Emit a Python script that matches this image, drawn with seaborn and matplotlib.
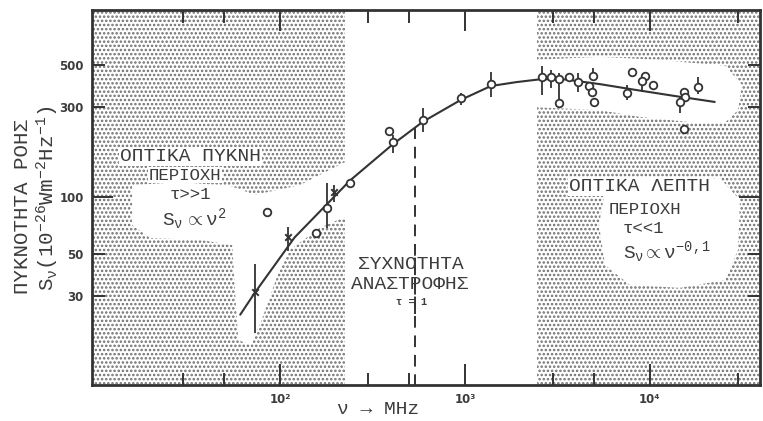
import numpy as np
import pandas as pd
import matplotlib
matplotlib.use("Agg")
import matplotlib.pyplot as plt
from matplotlib.patches import Polygon
from matplotlib.ticker import FixedLocator, FixedFormatter, NullFormatter
import seaborn as sns

# ---------------- data ----------------
curve_freq = [61, 73, 120, 239, 408, 593, 950, 1380, 1900, 2600, 3500, 5370, 8400, 13600, 22400]
curve_flux = [23.8, 31, 61, 122, 190, 250, 326, 386, 405, 420, 418, 395, 368, 342, 318]

circ_freq = [85, 157, 180, 239, 388, 408, 593, 950, 1380, 2600, 2920, 3220, 3220, 3650,
             4080, 4920, 4680, 4850, 5010, 7510, 8000, 9400, 9050, 10400, 15300, 15500,
             14500, 15300, 18200]
circ_flux = [83, 64.5, 87, 119, 223, 195, 255, 334, 396, 431, 431, 421, 314, 431,
             405, 436, 386, 360, 318, 355, 458, 436, 411, 392, 360, 338,
             318, 229, 382]

cross_freq = [73, 110, 196]
cross_flux = [31.4, 61, 106]

err_freq = [73, 110, 196, 180, 408, 593, 950, 1380, 2600, 2920, 3220, 4080, 4920,
            7510, 9050, 10400, 14500, 18200]
err_lo = [19, 52, 94, 68.5, 171, 221, 307, 338, 347, 378, 320, 360, 420,
          326, 360, 372, 278, 350]
err_hi = [44, 69, 116, 119, 213, 295, 355, 458, 490, 470, 453, 453, 480,
          392, 411, 400, 340, 430]

turnover_freq = 540
turnover_lo = [10, 24]
turnover_hi = [56, 240]

thick_band = [9.0, 224]      # optically thick (shaded) region, MHz
thin_band = [2450, 45000]    # optically thin (shaded) region, MHz

x_major = [100, 1000, 10000]
x_major_labels = ["10²", "10³", "10⁴"]
x_minor = [30, 50, 300, 500, 3000, 5000, 30000]
y_major = [100]
y_minor = [30, 50, 300, 500]

# ---------------- style ----------------
sns.set_style("ticks")
plt.rcParams["font.family"] = ["Liberation Mono", "DejaVu Sans"]
plt.rcParams["mathtext.fontset"] = "custom"
plt.rcParams["mathtext.rm"] = "Liberation Mono"
plt.rcParams["mathtext.it"] = "Liberation Mono"
plt.rcParams["mathtext.bf"] = "Liberation Mono:bold"
plt.rcParams["hatch.linewidth"] = 1.2
INK = "#333333"
TXT = "#3c3c3c"

fig = plt.figure(figsize=(7.63, 4.21), dpi=100)
ax = fig.add_axes([92 / 763, 36 / 421, 668 / 763, 375 / 421])
ax.set_xscale("log")
ax.set_yscale("log")
ax.set_xlim(9.64, 39350)
ax.set_ylim(10.1, 975)

# stippled regions
for lo, hi in (thick_band, thin_band):
    ax.axvspan(lo, hi, facecolor="white", edgecolor="#6e6e6e", hatch="....",
               linewidth=0, zorder=0.5)

# white clearings in the stipple (axes fraction)
holes = [
    [(0.060, 0.533), (0.132, 0.541), (0.207, 0.531), (0.244, 0.507), (0.311, 0.533),
     (0.385, 0.600), (0.385, 0.453), (0.341, 0.419), (0.296, 0.360), (0.278, 0.293),
     (0.254, 0.173), (0.237, 0.107), (0.219, 0.120), (0.214, 0.253), (0.210, 0.373),
     (0.162, 0.387), (0.087, 0.392), (0.060, 0.427)],
    [(0.660, 0.867), (0.760, 0.875), (0.850, 0.867), (0.948, 0.851), (0.973, 0.800),
     (0.967, 0.733), (0.948, 0.700), (0.900, 0.700), (0.820, 0.715),
     (0.760, 0.733), (0.660, 0.741)],
    [(0.768, 0.520), (0.850, 0.547), (0.940, 0.552), (0.970, 0.493), (0.967, 0.360),
     (0.948, 0.280), (0.880, 0.259), (0.805, 0.267), (0.768, 0.320), (0.759, 0.427)],
]
for h in holes:
    ax.add_patch(Polygon(h, closed=True, transform=ax.transAxes, facecolor="white",
                         edgecolor="none", zorder=0.6))

# turnover frequency dashed line
ax.vlines([turnover_freq] * 2, turnover_lo, turnover_hi, colors=INK,
          linestyles=(0, (6, 4)), linewidth=1.4, zorder=1)

# spectrum curve
curve = pd.DataFrame({"freq": curve_freq, "flux": curve_flux})
sns.lineplot(data=curve, x="freq", y="flux", ax=ax, color=INK, linewidth=1.5,
             sort=False, zorder=2)

# error bars
ax.vlines(err_freq, err_lo, err_hi, colors=INK, linewidth=1.3, zorder=2.5)

# points
circ = pd.DataFrame({"freq": circ_freq, "flux": circ_flux})
sns.scatterplot(data=circ, x="freq", y="flux", ax=ax, marker="o", s=30,
                facecolor="white", edgecolor=INK, linewidth=1.3, zorder=3)
cross = pd.DataFrame({"freq": cross_freq, "flux": cross_flux})
sns.scatterplot(data=cross, x="freq", y="flux", ax=ax, marker="x", s=22,
                color=INK, linewidth=1.4, zorder=3)

# axes cosmetics
for sp in ax.spines.values():
    sp.set_linewidth(2.0)
    sp.set_color(INK)
    sp.set_visible(True)
ax.xaxis.set_major_locator(FixedLocator(x_major))
ax.xaxis.set_major_formatter(FixedFormatter(x_major_labels))
ax.xaxis.set_minor_locator(FixedLocator(x_minor))
ax.xaxis.set_minor_formatter(NullFormatter())
ax.yaxis.set_major_locator(FixedLocator(y_major))
ax.yaxis.set_major_formatter(FixedFormatter([str(v) for v in y_major]))
ax.yaxis.set_minor_locator(FixedLocator(y_minor))
ax.yaxis.set_minor_formatter(FixedFormatter([str(v) for v in y_minor]))
ax.tick_params(which="both", direction="in", top=True, right=True, color=INK,
               width=1.4, labelcolor=TXT)
ax.tick_params(which="major", length=15, pad=6)
ax.tick_params(which="minor", length=9, pad=6)
for lab in ax.get_xticklabels() + ax.get_yticklabels(which="both"):
    lab.set_fontfamily("DejaVu Sans")
    lab.set_fontweight("bold")
    lab.set_fontsize(8.5)
ax.set_xlabel("")
ax.set_ylabel("")

fig.text(378 / 763, 1 - 410 / 421, "ν → MHz", ha="center", va="center",
         fontsize=14, color=TXT)
fig.text(23 / 763, 1 - 207 / 421, "ΠΥΚΝΟΤΗΤΑ ΡΟΗΣ", rotation=90, ha="center",
         va="center", fontsize=15, color=TXT)
fig.text(48 / 763, 1 - 198 / 421, r"$S_{\nu}(10^{-26}Wm^{-2}Hz^{-1})$", rotation=90,
         ha="center", va="center", fontsize=15, color=TXT)

tk = dict(transform=ax.transAxes, ha="center", va="center", fontsize=14,
          color=TXT, zorder=4)
tk2 = dict(tk, fontsize=12.5)
bb = dict(boxstyle="square,pad=0.05", facecolor="white", edgecolor="none")
ax.text(0.147, 0.610, "ΟΠΤΙΚΑ ΠΥΚΝΗ", bbox=bb, **tk)
ax.text(0.139, 0.560, "ΠΕΡΙΟΧΗ", bbox=bb, **tk2)
ax.text(0.147, 0.508, "τ>>1", **tk2)
ax.text(0.153, 0.443, r"$S_{\nu}\;\propto\nu^{2}$", **tk)

ax.text(0.478, 0.322, "ΣΥΧΝΟΤΗΤΑ", **tk)
ax.text(0.476, 0.267, "ΑΝΑΣΤΡΟΦΗΣ", **tk)
ax.text(0.479, 0.222, "τ = 1", transform=ax.transAxes, ha="center", va="center",
        fontsize=7.5, fontweight="bold", color=TXT, zorder=4)

ax.text(0.820, 0.530, "ΟΠΤΙΚΑ ΛΕΠΤΗ", bbox=bb, **tk)
ax.text(0.828, 0.468, "ΠΕΡΙΟΧΗ", bbox=bb, **tk2)
ax.text(0.825, 0.417, "τ<<1", **tk2)
ax.text(0.861, 0.353, r"$S_{\nu}\propto\nu^{-0,1}$", **tk)

fig.savefig("out.png", dpi=100, facecolor="white")
